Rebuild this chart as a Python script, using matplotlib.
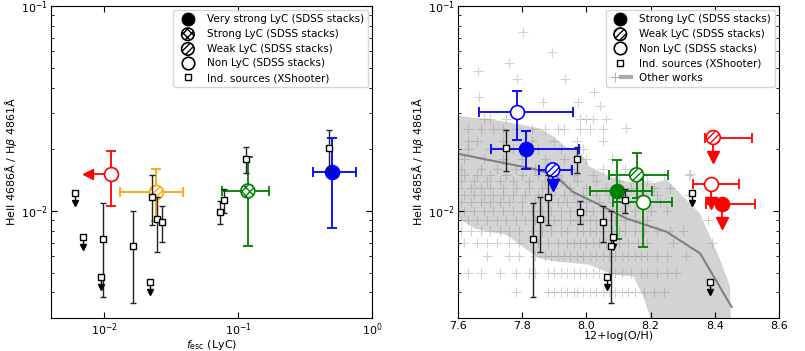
import numpy as np
import matplotlib.pyplot as plt
from matplotlib.lines import Line2D
from matplotlib.legend_handler import HandlerTuple

nan = np.nan

# ---- individual sources (XShooter), same objects in both panels
ind_fesc = [0.0060, 0.0069, 0.0097, 0.0094, 0.0165, 0.0221, 0.0227, 0.0246, 0.0268, 0.0728, 0.078, 0.114, 0.475]
ind_oh = [8.328, 8.082, 7.835, 8.065, 8.077, 8.384, 7.880, 7.856, 8.050, 7.981, 8.121, 7.972, 7.750]
ind_heii = [0.0122, 0.00744, 0.00733, 0.00478, 0.00673, 0.00452, 0.01175, 0.00914, 0.00881, 0.00992, 0.01131, 0.01787, 0.0202]
ind_lo = [nan, nan, 0.00379, nan, 0.00355, nan, 0.00855, 0.00633, 0.00704, 0.00861, 0.00974, 0.0153, 0.0157]
ind_hi = [nan, nan, 0.0109, nan, 0.00997, nan, 0.0150, 0.01175, 0.0106, 0.0112, 0.01285, 0.0204, 0.0247]
ind_uplim = [True, True, False, True, False, True, False, False, False, False, False, False, False]

# ---- SDSS stacks, left panel (fesc)
stk_fesc = [0.50, 0.118, 0.0245, 0.0112]
stk_fesc_lo = [0.362, 0.0754, 0.0130, nan]
stk_fesc_hi = [0.754, 0.170, 0.0384, nan]
stk_heii = [0.0155, 0.0125, 0.0123, 0.0151]
stk_heii_lo = [0.00826, 0.00677, 0.00894, 0.0106]
stk_heii_hi = [0.0228, 0.0183, 0.0160, 0.0195]
stk_color = ['blue', 'green', 'orange', 'red']
stk_kind = ['filled', 'cross', 'hatch', 'open']
stk_xlim = [False, False, False, True]

# ---- SDSS stacks, right panel (metallicity)
oh_stk = [7.812, 7.895, 7.785, 8.096, 8.156, 8.176, 8.423, 8.395, 8.388]
oh_stk_lo = [7.703, 7.853, 7.666, 8.010, 8.071, 8.084, 8.373, 8.369, 8.331]
oh_stk_hi = [7.978, 7.955, 7.959, 8.204, 8.255, 8.268, 8.526, 8.517, 8.475]
oh_heii = [0.0201, 0.01585, 0.0304, 0.0125, 0.0150, 0.0111, 0.01085, 0.0228, 0.01354]
oh_heii_lo = [0.0160, nan, 0.0222, 0.00728, 0.0115, 0.00667, nan, nan, nan]
oh_heii_hi = [0.0245, nan, 0.0386, 0.0177, 0.0191, 0.0150, nan, nan, nan]
oh_color = ['blue', 'blue', 'blue', 'green', 'green', 'green', 'red', 'red', 'red']
oh_kind = ['filled', 'hatch', 'open', 'filled', 'hatch', 'open', 'filled', 'hatch', 'open']
oh_uplim = [False, True, False, False, False, False, True, True, True]

# ---- other works: grey band, running line and individual points
band_top_oh = [7.55, 7.602, 7.70, 7.80, 7.853, 7.895, 7.936, 7.978, 8.009, 8.071, 8.123, 8.208, 8.25, 8.302, 8.354, 8.385, 8.416, 8.447, 8.45]
band_top = [0.030, 0.0290, 0.0280, 0.0263, 0.0253, 0.0231, 0.0205, 0.0197, 0.0165, 0.0147, 0.0139, 0.0137, 0.0142, 0.0117, 0.0097, 0.0075, 0.0058, 0.0043, 0.0025]
band_bot_oh = [7.55, 7.602, 7.656, 7.750, 7.80, 7.853, 7.905, 8.009, 8.082, 8.146, 8.177, 8.198, 8.205]
band_bot = [0.0097, 0.0092, 0.00814, 0.00764, 0.0067, 0.00587, 0.00566, 0.00546, 0.00488, 0.00479, 0.00382, 0.00305, 0.0025]
line_oh = [7.6, 7.72, 7.83, 7.9, 7.957, 8.03, 8.123, 8.25, 8.354, 8.452]
line_heii = [0.0190, 0.0174, 0.0161, 0.0150, 0.0124, 0.0109, 0.0092, 0.0079, 0.0062, 0.0034]

other_rows = [0.004, 0.005, 0.006, 0.007, 0.008, 0.009, 0.010, 0.011, 0.012, 0.013,
              0.014, 0.015, 0.016, 0.018, 0.020, 0.022, 0.025, 0.028]
other_row_oh = [
    [7.78, 7.88, 7.90, 7.92, 7.94, 7.96, 7.97, 7.99, 8.01, 8.03, 8.05, 8.07, 8.09, 8.11, 8.13, 8.15, 8.18, 8.21, 8.24],
    [7.63, 7.67, 7.73, 7.78, 7.82, 7.84, 7.88, 7.90, 7.92, 7.94, 7.96, 7.98, 8.00, 8.02, 8.04, 8.07, 8.09, 8.11, 8.14, 8.17, 8.19, 8.22, 8.25, 8.28],
    [7.69, 7.76, 7.79, 7.84, 7.87, 7.89, 7.91, 7.93, 7.95, 7.97, 7.99, 8.01, 8.03, 8.05, 8.07, 8.09, 8.11, 8.13, 8.15, 8.17, 8.19, 8.22, 8.25, 8.31],
    [7.62, 7.66, 7.69, 7.72, 7.76, 7.79, 7.85, 7.88, 7.91, 7.94, 7.96, 7.98, 8.00, 8.02, 8.04, 8.06, 8.08, 8.10, 8.13, 8.16, 8.19, 8.27, 8.39],
    [7.61, 7.64, 7.67, 7.70, 7.73, 7.76, 7.79, 7.83, 7.86, 7.89, 7.92, 7.94, 7.97, 7.99, 8.01, 8.03, 8.05, 8.08, 8.10, 8.12, 8.15, 8.18, 8.22, 8.26, 8.30],
    [7.61, 7.63, 7.66, 7.69, 7.72, 7.75, 7.78, 7.81, 7.84, 7.87, 7.90, 7.92, 7.95, 7.97, 7.99, 8.01, 8.03, 8.06, 8.09, 8.12, 8.15, 8.19, 8.38],
    [7.62, 7.65, 7.68, 7.71, 7.74, 7.77, 7.80, 7.83, 7.86, 7.89, 7.92, 7.95, 7.98, 8.00, 8.02, 8.05, 8.08, 8.11, 8.15, 8.20, 8.25],
    [7.61, 7.64, 7.67, 7.70, 7.73, 7.76, 7.80, 7.84, 7.88, 7.91, 7.94, 7.97, 8.00, 8.04, 8.08, 8.13, 8.18, 8.23],
    [7.62, 7.65, 7.68, 7.71, 7.74, 7.77, 7.81, 7.85, 7.89, 7.93, 7.96, 7.99, 8.03, 8.07, 8.12, 8.17, 8.22, 8.32],
    [7.60, 7.64, 7.67, 7.70, 7.74, 7.78, 7.82, 7.86, 7.90, 7.95, 8.00, 8.06, 8.14, 8.21, 8.26],
    [7.61, 7.65, 7.69, 7.73, 7.77, 7.82, 7.87, 7.92, 7.97, 8.03, 8.10, 8.19],
    [7.62, 7.66, 7.70, 7.75, 7.80, 7.85, 7.91, 7.96, 8.02, 8.09, 8.16, 8.24, 8.32],
    [7.61, 7.67, 7.72, 7.78, 7.84, 7.90, 7.95, 8.05, 8.12],
    [7.62, 7.68, 7.74, 7.80, 7.87, 7.93, 8.00, 8.08],
    [7.63, 7.70, 7.77, 7.85, 7.92, 7.99],
    [7.63, 7.66, 7.74, 7.83, 7.90, 7.97, 8.05],
    [7.63, 7.67, 7.71, 7.74, 7.78, 7.83, 7.87, 7.91, 7.93, 7.98, 8.01, 8.05],
    [7.68, 7.70, 7.75, 7.98, 8.00, 8.02, 8.06],
]
other_oh_sparse = [7.803, 7.892, 7.76, 7.661, 7.783, 7.933, 7.665, 8.022, 7.866, 7.975, 8.042, 8.122, 8.323]
other_heii_sparse = [0.0744, 0.0598, 0.0525, 0.0482, 0.044, 0.044, 0.0361, 0.0379, 0.0341, 0.0341, 0.0325, 0.0253, 0.0152]

MS = 10
MS_LEG = 9
HATCH = {'hatch': '/////', 'cross': 'xxxx'}


def draw_stack(ax, x, y, c, kind, z=4):
    if kind == 'filled':
        ax.scatter([x], [y], s=MS**2, facecolor=c, edgecolor=c, lw=1.2, zorder=z)
    elif kind == 'open':
        ax.scatter([x], [y], s=MS**2, facecolor='white', edgecolor=c, lw=1.2, zorder=z)
    else:
        ax.scatter([x], [y], s=MS**2, facecolor='white', edgecolor=c, lw=1.2,
                   hatch=HATCH[kind], zorder=z)


def down_arrow(ax, x, y, c, dex, ms, lw, z):
    yt = y / 10**dex
    ax.plot([x, x], [y, yt], color=c, lw=lw, zorder=z)
    ax.plot([x], [yt], marker='v', ms=ms, color=c, ls='none', zorder=z)


def draw_ind(ax, xs):
    for x, y, lo, hi, ul in zip(xs, ind_heii, ind_lo, ind_hi, ind_uplim):
        if ul:
            down_arrow(ax, x, y, 'k', 0.05, 4.5, 1.0, 5)
        else:
            ax.errorbar([x], [y], yerr=[[y - lo], [hi - y]], fmt='none', ecolor='#222222',
                        elinewidth=1.0, capsize=2.5, capthick=1.0, zorder=5)
    ax.plot(xs, ind_heii, ls='none', marker='s', ms=4.5, mfc='white', mec='k', mew=1.0, zorder=6)


plt.rcParams['hatch.linewidth'] = 1.0
fig = plt.figure(figsize=(8.05, 3.51), dpi=100)
ax1 = fig.add_axes([0.0634, 0.094, 0.3988, 0.889])
ax2 = fig.add_axes([0.569, 0.094, 0.3988, 0.889])

# ---------------- left panel
for i in range(len(stk_fesc)):
    x, y, c = stk_fesc[i], stk_heii[i], stk_color[i]
    yerr = [[y - stk_heii_lo[i]], [stk_heii_hi[i] - y]]
    if stk_xlim[i]:
        ax1.errorbar([x], [y], yerr=yerr, fmt='none', ecolor=c, elinewidth=1.3,
                     capsize=3.5, capthick=1.3, zorder=3)
        xt = x / 10**0.17
        ax1.plot([x, xt], [y, y], color=c, lw=1.3, zorder=3)
        ax1.plot([xt], [y], marker='<', ms=7, color=c, ls='none', zorder=3)
    else:
        xerr = [[x - stk_fesc_lo[i]], [stk_fesc_hi[i] - x]]
        ax1.errorbar([x], [y], xerr=xerr, yerr=yerr, fmt='none', ecolor=c, elinewidth=1.3,
                     capsize=3.5, capthick=1.3, zorder=3)
    draw_stack(ax1, x, y, c, stk_kind[i])
draw_ind(ax1, ind_fesc)

ax1.set_xscale('log')
ax1.set_yscale('log')
ax1.set_xlim(0.004, 1)
ax1.set_ylim(0.003, 0.1)
ax1.set_xlabel(r'$f_{\rm esc}$ (LyC)', fontsize=8, labelpad=0)
ax1.set_ylabel(r'HeII 4686Å / H$\beta$ 4861Å', fontsize=8, labelpad=1)
ax1.xaxis.set_minor_locator(plt.NullLocator())

h_leg = [
    Line2D([], [], ls='none', marker='o', ms=MS_LEG, mfc='k', mec='k'),
    ax1.scatter([], [], s=MS_LEG**2, facecolor='white', edgecolor='k', lw=1.2, hatch='xxxx'),
    ax1.scatter([], [], s=MS_LEG**2, facecolor='white', edgecolor='k', lw=1.2, hatch='/////'),
    Line2D([], [], ls='none', marker='o', ms=MS_LEG, mfc='white', mec='k', mew=1.2),
    Line2D([], [], ls='none', marker='s', ms=4.5, mfc='white', mec='k', mew=1.0),
]
ax1.legend(h_leg, ['Very strong LyC (SDSS stacks)', 'Strong LyC (SDSS stacks)',
                   'Weak LyC (SDSS stacks)', 'Non LyC (SDSS stacks)', 'Ind. sources (XShooter)'],
           loc='upper right', fontsize=7.5, labelspacing=0.45, borderpad=0.4,
           handletextpad=0.8, borderaxespad=0.4)

# ---------------- right panel
ax2.fill(band_top_oh + band_bot_oh[::-1], band_top + band_bot[::-1],
         color='#d3d3d3', lw=0, zorder=0)
ax2.plot(line_oh, line_heii, color='#808080', lw=1.5, zorder=1)
for yrow, xs in zip(other_rows, other_row_oh):
    ax2.plot(xs, [yrow] * len(xs), ls='none', marker='+', ms=7, mew=0.8,
             color='grey', alpha=0.35, zorder=1)
ax2.plot(other_oh_sparse, other_heii_sparse, ls='none', marker='+', ms=7, mew=0.8,
         color='grey', alpha=0.35, zorder=1)

for i in range(len(oh_stk)):
    x, y, c = oh_stk[i], oh_heii[i], oh_color[i]
    xerr = [[x - oh_stk_lo[i]], [oh_stk_hi[i] - x]]
    if oh_uplim[i]:
        ax2.errorbar([x], [y], xerr=xerr, fmt='none', ecolor=c, elinewidth=1.3,
                     capsize=3.5, capthick=1.3, zorder=3)
        dex = 0.075 if c == 'blue' else 0.095
        down_arrow(ax2, x, y, c, dex, 8, 1.3, 3)
    else:
        yerr = [[y - oh_heii_lo[i]], [oh_heii_hi[i] - y]]
        ax2.errorbar([x], [y], xerr=xerr, yerr=yerr, fmt='none', ecolor=c, elinewidth=1.3,
                     capsize=3.5, capthick=1.3, zorder=3)
    draw_stack(ax2, x, y, c, oh_kind[i])
draw_ind(ax2, ind_oh)

ax2.set_yscale('log')
ax2.set_xlim(7.6, 8.6)
ax2.set_ylim(0.003, 0.1)
ax2.set_xticks([7.6, 7.8, 8.0, 8.2, 8.4, 8.6])
ax2.set_xlabel('12+log(O/H)', fontsize=8, labelpad=0)
ax2.set_ylabel(r'HeII 4685Å / H$\beta$ 4861Å', fontsize=8, labelpad=1)

h_leg2 = [
    Line2D([], [], ls='none', marker='o', ms=MS_LEG, mfc='k', mec='k'),
    ax2.scatter([], [], s=MS_LEG**2, facecolor='white', edgecolor='k', lw=1.2, hatch='/////'),
    Line2D([], [], ls='none', marker='o', ms=MS_LEG, mfc='white', mec='k', mew=1.2),
    Line2D([], [], ls='none', marker='s', ms=4.5, mfc='white', mec='k', mew=1.0),
    (Line2D([], [], ls='none', marker='+', ms=7, mew=0.8, color='grey', alpha=0.6),
     Line2D([], [], color='darkgrey', lw=3)),
]
ax2.legend(h_leg2, ['Strong LyC (SDSS stacks)', 'Weak LyC (SDSS stacks)', 'Non LyC (SDSS stacks)',
                    'Ind. sources (XShooter)', 'Other works'],
           handler_map={tuple: HandlerTuple(ndivide=None, pad=0.2)},
           loc='upper right', fontsize=7.5, labelspacing=0.45, borderpad=0.4,
           handletextpad=0.8, borderaxespad=0.4)

for ax in (ax1, ax2):
    ax.tick_params(which='both', direction='in', top=True, right=True, labelsize=8, pad=2.5)
    ax.tick_params(which='major', length=4)
    ax.tick_params(which='minor', length=2)

fig.savefig('out.png', dpi=100)
